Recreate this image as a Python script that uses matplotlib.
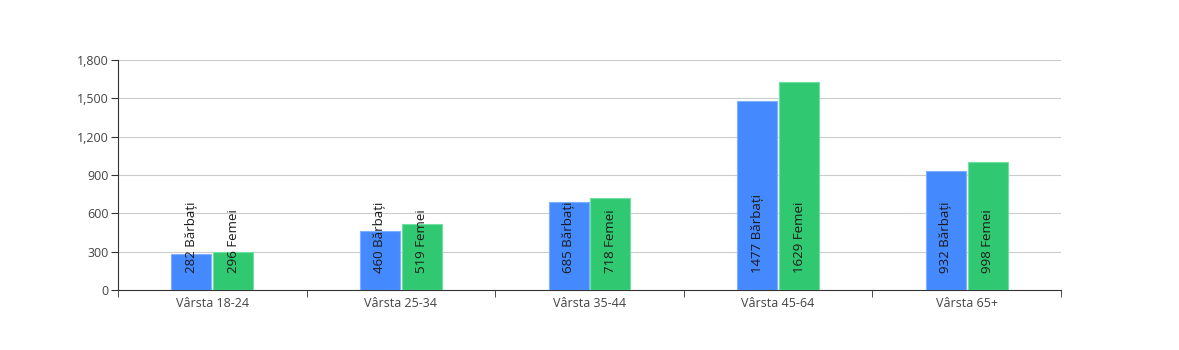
import matplotlib.pyplot as plt
import numpy as np

plt.rcParams["font.family"] = ["Open Sans", "DejaVu Sans"]

categories = ["Vârsta 18-24", "Vârsta 25-34", "Vârsta 35-44", "Vârsta 45-64", "Vârsta 65+"]
barbati = [282, 460, 685, 1477, 932]
femei = [296, 519, 718, 1629, 998]
yticks = [0, 300, 600, 900, 1200, 1500, 1800]

blue = "#4589ff"
green = "#31c872"


def main():
    fig = plt.figure(figsize=(11.79, 3.5), dpi=100)
    ax = fig.add_axes([118 / 1179, 60 / 350, 943 / 1179, 230 / 350])

    x = np.arange(len(categories))
    w = 0.212
    off = 0.111
    ax.bar(x - off, barbati, w, color=blue, edgecolor="#7fb0ff", linewidth=0.8, zorder=3)
    ax.bar(x + off, femei, w, color=green, edgecolor="#6fe0a0", linewidth=0.8, zorder=3)

    # labels sit rotated inside the bars, from the bottom up
    for i in range(len(categories)):
        for dx, v, name in ((-off, barbati[i], "Bărbați"), (off, femei[i], "Femei")):
            ax.annotate(f"{v} {name}", (x[i] + dx, 0), xytext=(0, 12.5),
                        textcoords="offset points", rotation=90, ha="center",
                        va="bottom", fontsize=9.5, color="#1a1a1a", zorder=4)

    ax.set_xlim(-0.5, len(categories) - 0.5)
    ax.set_ylim(0, 1800)
    ax.set_yticks(yticks)
    ax.set_yticklabels([f"{t:,}" for t in yticks])
    ax.set_xticks(x)
    ax.set_xticklabels(categories)
    ax.set_xticks(np.arange(-0.5, len(categories)), minor=True)
    ax.tick_params(axis="x", which="major", length=0, pad=5, labelsize=9, labelcolor="#444444")
    ax.tick_params(axis="x", which="minor", length=5, color="#333333")
    ax.tick_params(axis="y", length=5, color="#333333", labelsize=9, labelcolor="#444444", pad=2)

    ax.grid(axis="y", color="#cccccc", linewidth=0.8, zorder=0)
    for s in ("top", "right"):
        ax.spines[s].set_visible(False)
    ax.spines["left"].set_color("#333333")
    ax.spines["bottom"].set_color("#333333")

    fig.savefig("out.png", dpi=100)


if __name__ == "__main__":
    main()
